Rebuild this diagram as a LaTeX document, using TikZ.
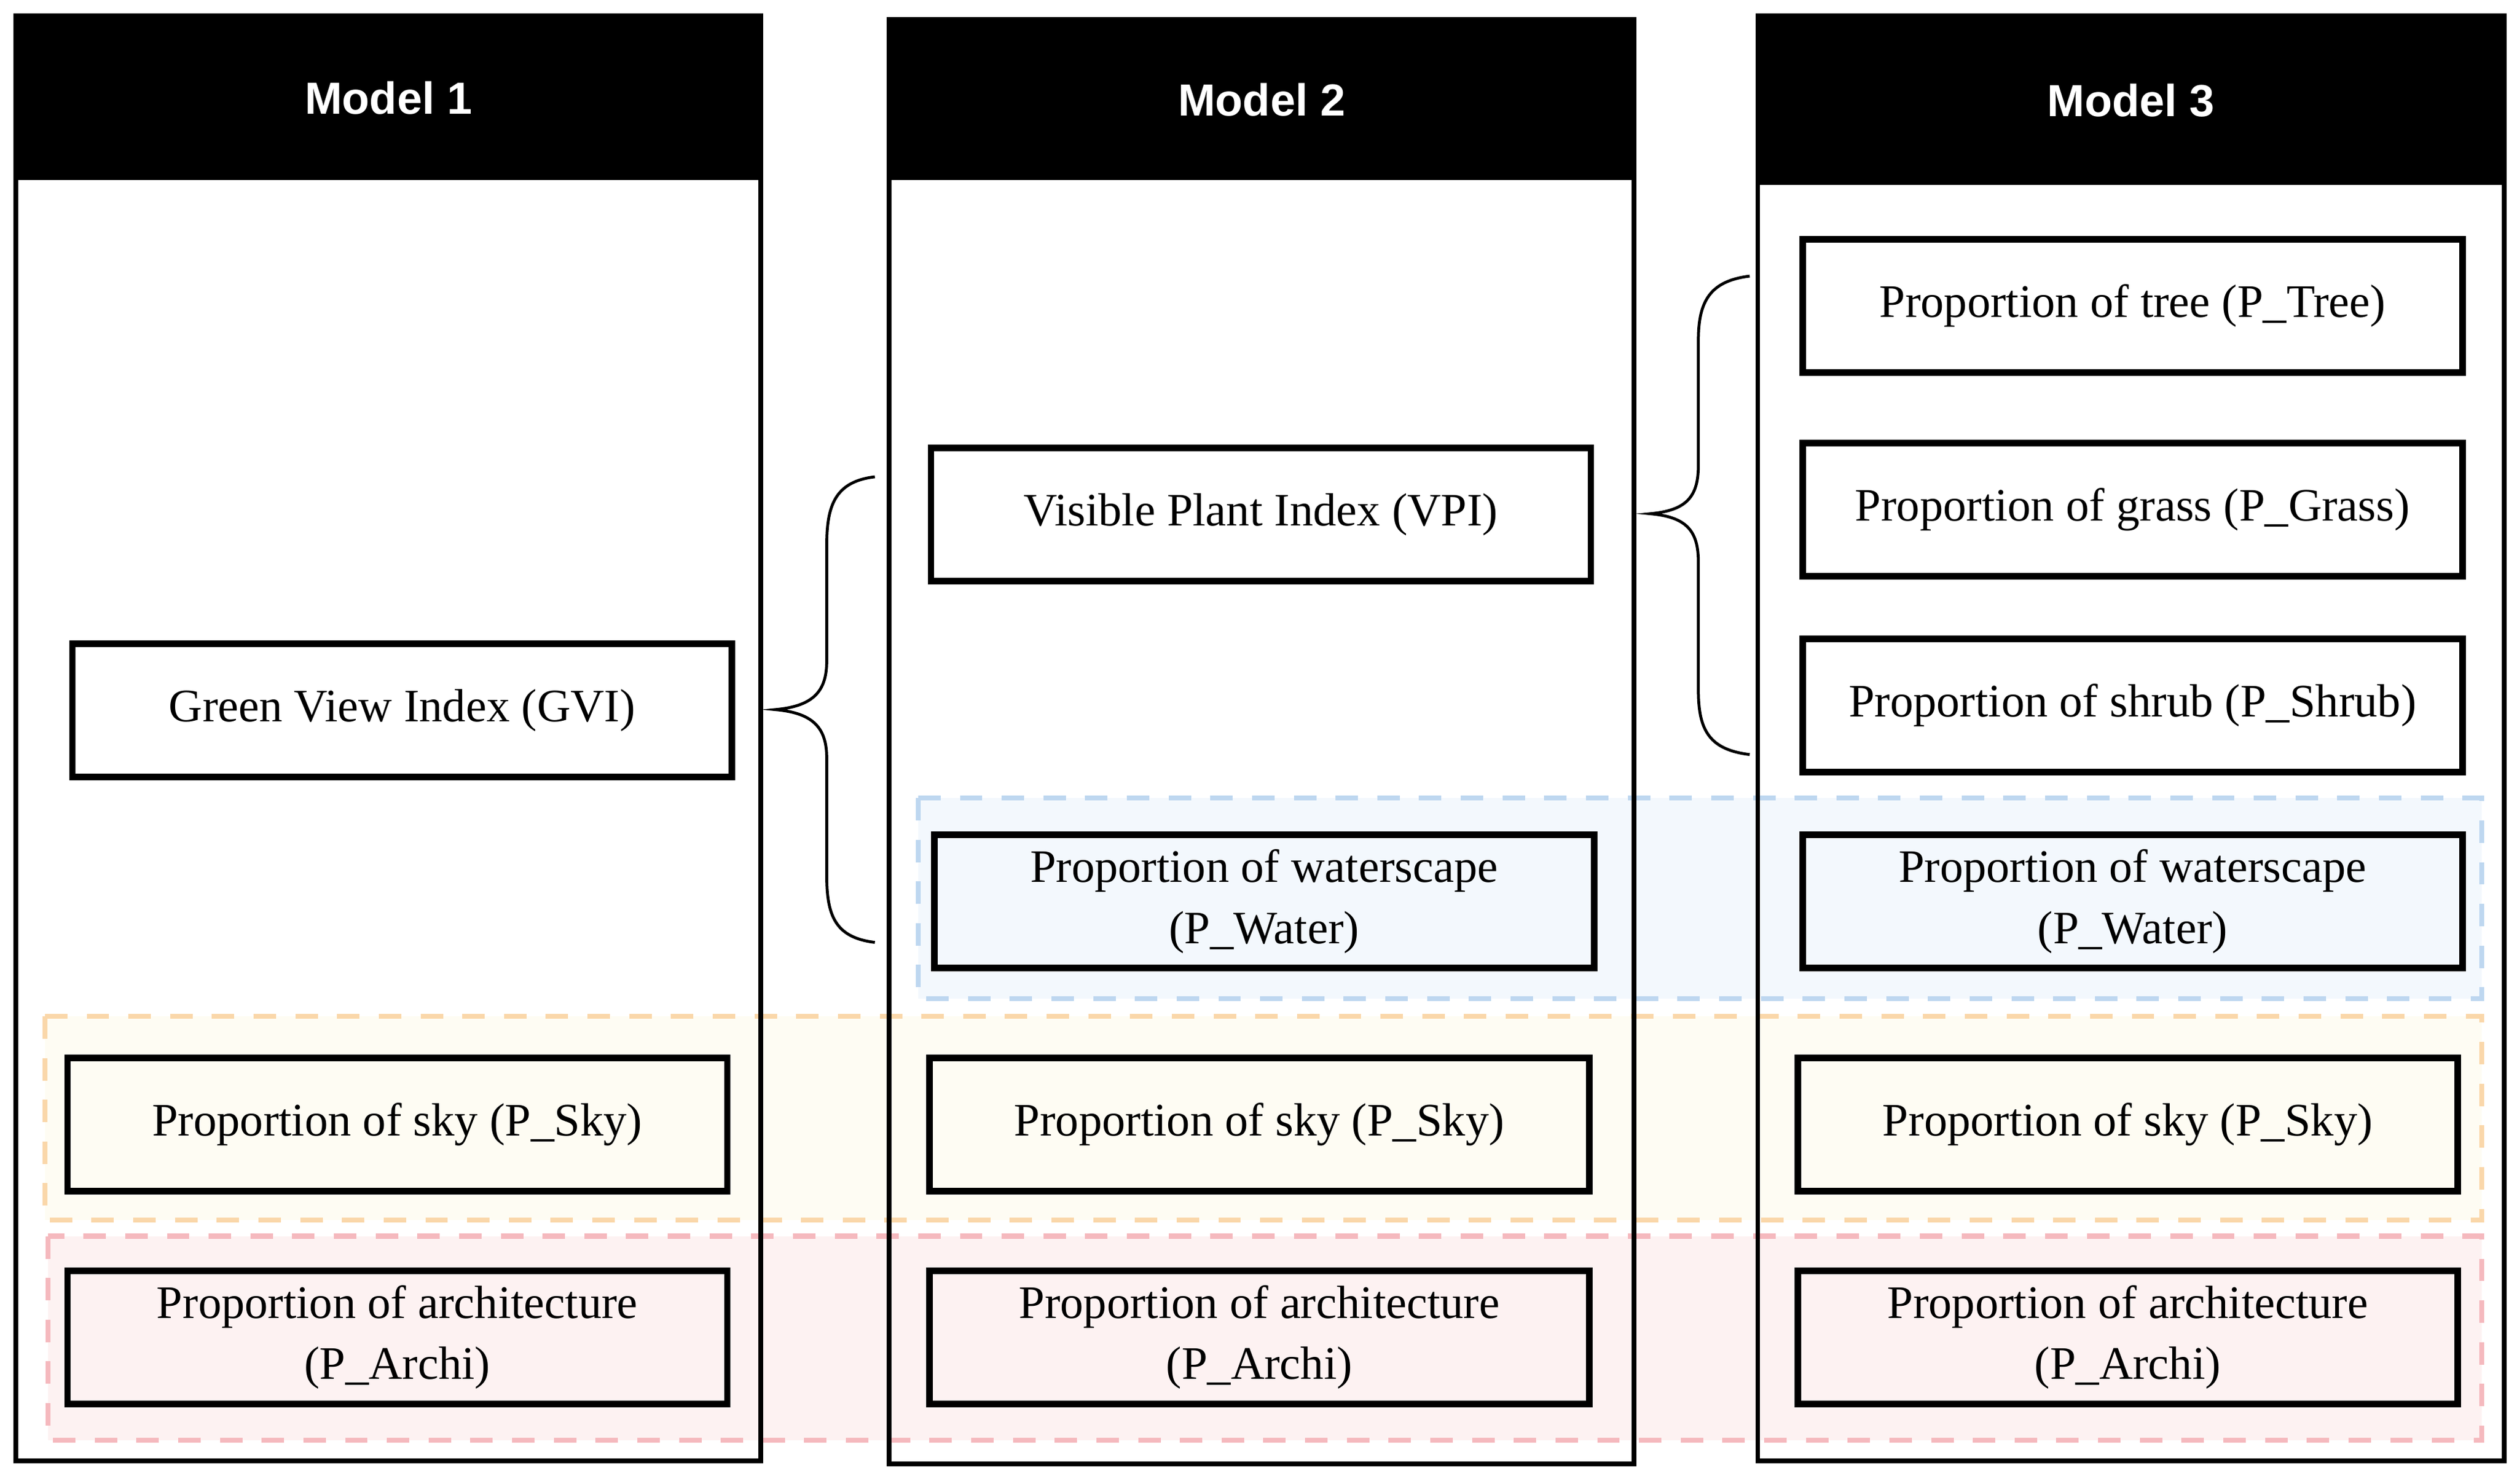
\documentclass[tikz,border=0pt]{standalone}
\usepackage{fontspec}
\setmainfont{Liberation Serif}
\newfontfamily\hdr{Liberation Sans}
\definecolor{bdash}{RGB}{190,215,240}
\definecolor{bfill}{RGB}{243,248,253}
\definecolor{odash}{RGB}{250,215,170}
\definecolor{ofill}{RGB}{254,252,243}
\definecolor{rdash}{RGB}{245,185,190}
\definecolor{rfill}{RGB}{253,242,242}
\begin{document}
\begin{tikzpicture}[x=0.5pt,y=-0.5pt,
 col/.style={draw=black,line width=1.5pt},
 hd/.style={fill=black,text=white,font=\hdr\bfseries\fontsize{14}{16}\selectfont},
 bx/.style={draw=black,line width=2pt,minimum width=205.5pt,minimum height=41.5pt,align=center,font=\fontsize{14.5}{19}\selectfont,inner sep=0pt},
 reg/.style={dash pattern=on 7pt off 6pt,line width=1.6pt},
 brace/.style={line width=0.9pt}]
\useasboundingbox (0,0) rectangle (1568,924);
\fill[white] (0,0) rectangle (1568,924);
\fill[white] (10,10) rectangle (474,910);
\fill[white] (554,12) rectangle (1018,912);
\fill[white] (1095,10) rectangle (1560,910);
% regions
\path[reg,draw=bdash,fill=bfill] (572,497) rectangle (1546,622);
\path[reg,draw=odash,fill=ofill] (28,633) rectangle (1546,760);
\path[reg,draw=rdash,fill=rfill] (30,770) rectangle (1546,897);
\draw[col] (10,10) rectangle (474,910);
\draw[col] (554,12) rectangle (1018,912);
\draw[col] (1095,10) rectangle (1560,910);
\node[hd,minimum width=232pt,minimum height=51pt,inner sep=0pt] (h1) at (242,61) {Model 1};
\node[hd,minimum width=232pt,minimum height=50pt,inner sep=0pt] (h2) at (786,62) {Model 2};
\node[hd,minimum width=232.5pt,minimum height=52.5pt,inner sep=0pt] (h3) at (1327.5,62.5) {Model 3};
% boxes
\node[bx,fill=white] (gvi) at (250.5,442.5) {Green View Index (GVI)};
\node[bx,fill=ofill] (s1) at (247.5,700.5) {Proportion of sky (P\_Sky)};
\node[bx,fill=rfill] (a1) at (247.5,833) {Proportion of architecture\\(P\_Archi)};
\node[bx,fill=white] (vpi) at (785.5,320.5) {Visible Plant Index (VPI)};
\node[bx,fill=bfill] (w2) at (787.5,561.5) {Proportion of waterscape\\(P\_Water)};
\node[bx,fill=ofill] (s2) at (784.5,700.5) {Proportion of sky (P\_Sky)};
\node[bx,fill=rfill] (a2) at (784.5,833) {Proportion of architecture\\(P\_Archi)};
\node[bx,fill=white] (tr) at (1328.5,190.5) {Proportion of tree (P\_Tree)};
\node[bx,fill=white] (gr) at (1328.5,317.5) {Proportion of grass (P\_Grass)};
\node[bx,fill=white] (sh) at (1328.5,439.5) {Proportion of shrub (P\_Shrub)};
\node[bx,fill=bfill] (w3) at (1328.5,561.5) {Proportion of waterscape\\(P\_Water)};
\node[bx,fill=ofill] (s3) at (1325.5,700.5) {Proportion of sky (P\_Sky)};
\node[bx,fill=rfill] (a3) at (1325.5,833) {Proportion of architecture\\(P\_Archi)};
% braces
\draw[brace] (545,297) .. controls (520,300) and (515,315) .. (515,340) -- (515,412) .. controls (515,432) and (505,440) .. (483,442)
 .. controls (505,444) and (515,452) .. (515,472) -- (515,545) .. controls (515,570) and (520,584) .. (545,587);
\draw[brace] (1090,172) .. controls (1065,175) and (1058,188) .. (1058,212) -- (1058,290) .. controls (1058,310) and (1050,318) .. (1028,320)
 .. controls (1050,322) and (1058,330) .. (1058,350) -- (1058,430) .. controls (1058,455) and (1065,467) .. (1090,470);
\end{tikzpicture}
\end{document}
